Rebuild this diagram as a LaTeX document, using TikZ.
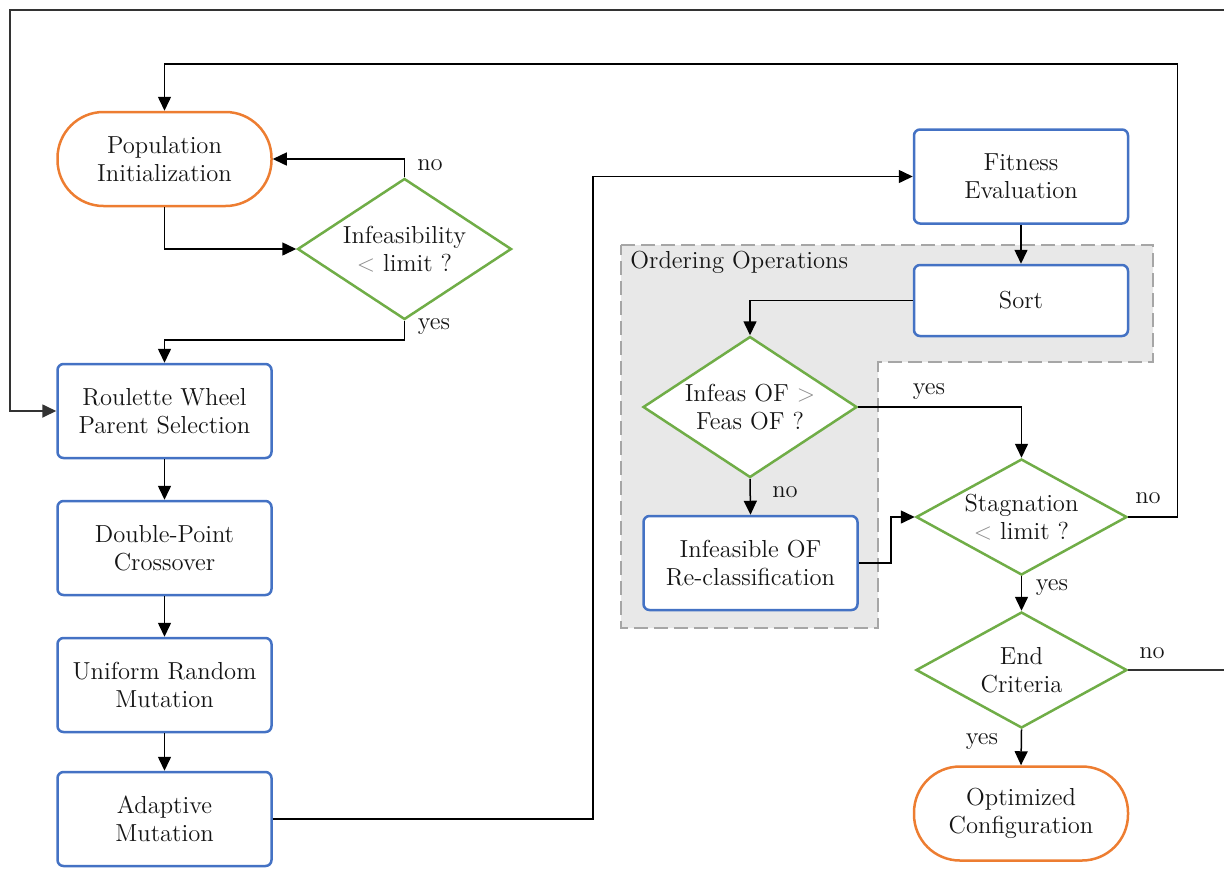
\documentclass[tikz,border=0pt]{standalone}
\usetikzlibrary{arrows.meta,shapes.geometric,calc}
\definecolor{cOrange}{HTML}{ED7D31}
\definecolor{cBlue}{HTML}{4472C4}
\definecolor{cGreen}{HTML}{70AD47}
\definecolor{cText}{HTML}{151515}
\definecolor{cRegion}{HTML}{E8E8E8}
\definecolor{cDash}{HTML}{A6A6A6}
\newcommand{\lt}{\textcolor{black!45}{$<$}}
\newcommand{\gtr}{\textcolor{black!45}{$>$}}
\begin{document}
\begin{tikzpicture}[x=0.5pt,y=-0.5pt,
  every node/.style={font=\fontsize{12.3}{14}\selectfont, text=cText},
  procbox/.style={draw=cBlue, line width=1.25pt, rounded corners=3pt, fill=white,
     minimum width=107pt, minimum height=47pt, align=center, inner sep=2pt},
  termbox/.style={draw=cOrange, line width=1.25pt, rounded corners=23pt, fill=white,
     minimum width=107pt, minimum height=47pt, align=center, inner sep=2pt},
  decbox/.style={draw=cGreen, line width=1.25pt, diamond, inner sep=0pt, fill=white,
     minimum width=107pt, minimum height=70.5pt},
  flatdec/.style={decbox, minimum width=105.5pt, minimum height=58pt},
  arr/.style={draw=black, line width=0.75pt, -{Triangle[length=7pt,width=6.5pt]}},
  wire/.style={draw=black!80, line width=0.9pt, -{Triangle[length=7pt,width=6.5pt]}},
  lbl/.style={inner sep=1pt}
]
\clip (0,0) rectangle (1224,869);

% grouped region
\path[fill=cRegion, draw=cDash, line width=1.3pt, dash pattern=on 7pt off 3pt]
  (621,245) -- (1153,245) -- (1153,362) -- (878,362) -- (878,628) -- (621,628) -- cycle;
\node[anchor=north west, inner sep=2pt] (ordlbl) at (626,247) {Ordering Operations};

% nodes
\node[termbox] (pop) at (164.5,159) {Population\\Initialization};
\node[decbox, label={[align=center, text=cText]center:Infeasibility\\\lt{} limit ?}] (d1) at (404.5,249) {};
\node[procbox] (rw) at (164.5,411) {Roulette Wheel\\Parent Selection};
\node[procbox] (dc) at (164.5,548) {Double-Point\\Crossover};
\node[procbox] (um) at (164.5,685) {Uniform Random\\Mutation};
\node[procbox] (am) at (164.5,819) {Adaptive\\Mutation};
\node[procbox] (fe) at (1021,176.5) {Fitness\\Evaluation};
\node[procbox, minimum height=35.5pt] (so) at (1021,300.5) {Sort};
\node[decbox, label={[align=center, text=cText]center:Infeas OF \gtr\\Feas OF ?}] (d2) at (750,407) {};
\node[procbox] (rc) at (750.5,563) {Infeasible OF\\Re-classification};
\node[flatdec, label={[align=center, text=cText]center:Stagnation\\\lt{} limit ?}] (d3) at (1021.5,517) {};
\node[flatdec, label={[align=center, text=cText]center:End\\Criteria}] (d4) at (1021.5,670) {};
\node[termbox] (oc) at (1021,813.5) {Optimized\\Configuration};

% connectors
\draw[arr] (pop.south) |- (d1.west);
\draw[arr] (d1.north) |- (pop.east);
\node[lbl] (l1) at (430,165) {no};
\draw[arr] (d1.south) -- ++(0,19) -| (rw.north);
\node[lbl] (l2) at (434,327) {yes};
\draw[arr] (rw) -- (dc);
\draw[arr] (dc) -- (um);
\draw[arr] (um) -- (am);
\draw[arr] (am.east) -| ([xshift=-160pt]fe.west) -- (fe.west);
\draw[arr] (fe) -- (so);
\draw[arr] (so.west) -| (d2.north);
\draw[arr] (d2.east) -| (d3.north);
\node[lbl] (l3) at (929,392) {yes};
\draw[arr] (d2.south) -- (rc.north);
\node[lbl] (l4) at (785,492) {no};
\draw[arr] (rc.east) -- ++(32,0) |- (d3.west);
\draw[arr] (d3.east) -- ++(49,0) |- (1176,64) -| (pop.north);
\node[lbl] (l5) at (1148,498) {no};
\draw[arr] (d3.south) -- (d4.north);
\node[lbl] (l6) at (1052,588) {yes};
\draw[arr] (d4.south) -- (oc.north);
\node[lbl] (l7) at (982,742) {yes};
\coordinate (offR) at (1260,670);
\draw[wire] (d4.east) -- (offR) |- (10,10) |- (rw.west);
\node[lbl] (l8) at (1152,653) {no};
\end{tikzpicture}
\end{document}
